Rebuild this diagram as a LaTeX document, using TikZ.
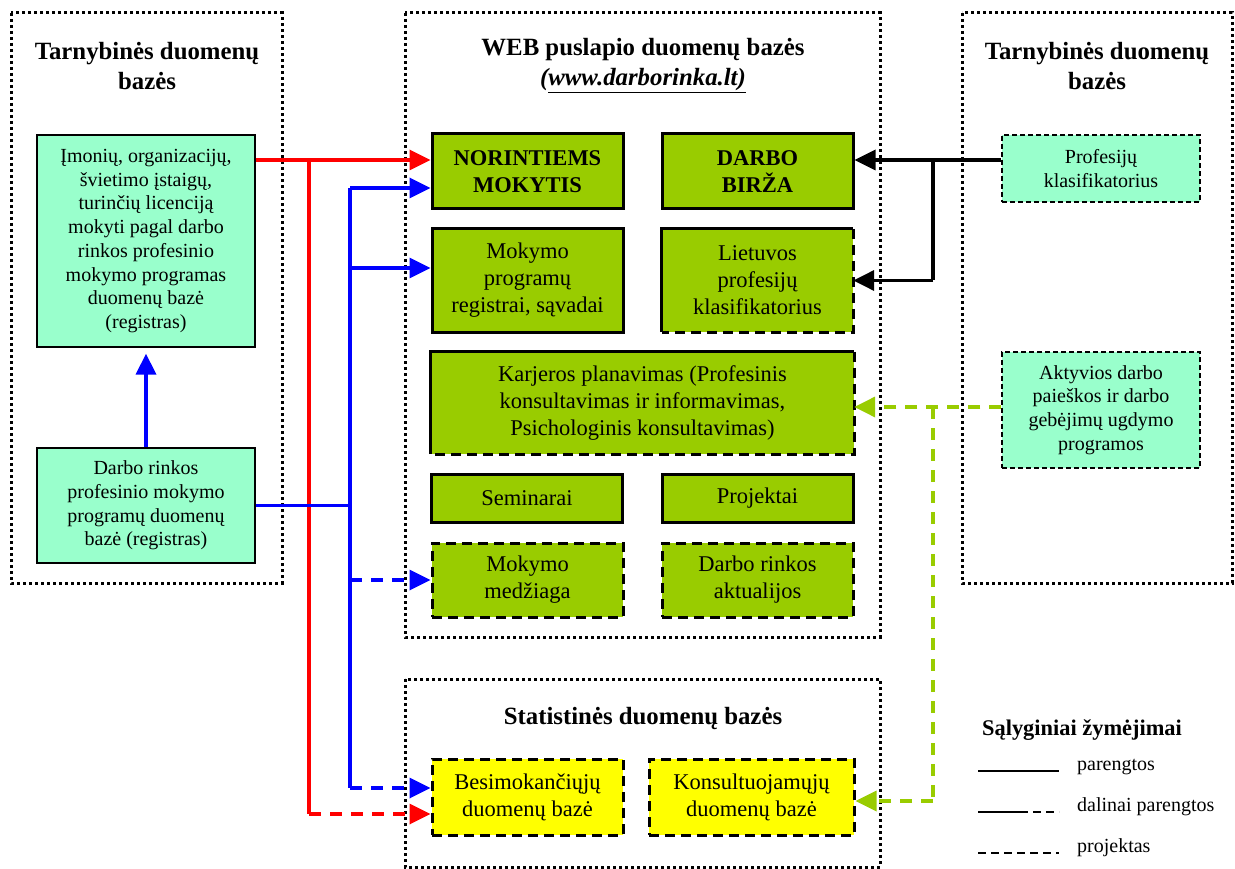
\documentclass[tikz,border=0pt]{standalone}
\usepackage{fontspec}
\setmainfont{Liberation Serif}
\usetikzlibrary{arrows.meta}
\definecolor{webgreen}{HTML}{99CC00}
\definecolor{mint}{HTML}{99FFCC}
\definecolor{ylw}{HTML}{FFFF00}
\definecolor{cblue}{HTML}{0000FF}
\definecolor{cred}{HTML}{FF0000}
\begin{document}
\begin{tikzpicture}[x=1pt,y=-1pt,
  frame/.style={draw, line width=3pt, dash pattern=on 3pt off 3pt},
  head/.style={font=\fontsize{24.8}{30}\selectfont\bfseries, align=center, inner sep=0},
  cbox/.style={inner sep=0, align=center, font=\fontsize{22.5}{27}\selectfont, minimum width=191pt},
  gbox/.style={cbox, fill=webgreen},
  ybox/.style={cbox, fill=ylw},
  solidb/.style={draw, line width=3pt},
  dashb/.style={draw, line width=3pt, dash pattern=on 10pt off 6pt},
  sbox/.style={fill=mint, draw, line width=1.3pt, inner sep=0, align=center, font=\fontsize{20}{23.7}\selectfont, minimum width=218pt},
  sdash/.style={dash pattern=on 5pt off 3pt},
  con/.style={line width=3.5pt, -{Triangle[length=21pt,width=20pt]}},
  wire/.style={line width=3.5pt},
  cdash/.style={dash pattern=on 12pt off 9pt},
  ldash/.style={dash pattern=on 8pt off 5pt},
  legtxt/.style={font=\fontsize{20}{24}\selectfont, anchor=west, inner sep=0}
]
\useasboundingbox (0,0) rectangle (1235,869);

% frames
\draw[frame] (11,13) rectangle (282,583);
\draw[frame] (405,13) rectangle (880,637);
\draw[frame] (962,13) rectangle (1232,583);
\draw[frame] (405,679) rectangle (880,867);

% headings
\node[head] (hl) at (147,66) {Tarnybinės duomenų\\bazės};
\node[head] (hr) at (1097,66) {Tarnybinės duomenų\\bazės};
\node[head] (hw) at (643,66) {WEB puslapio duomenų bazės\\{\itshape(\underline{www.darborinka.lt)}}};
\node[head] (hs) at (643,718) {Statistinės duomenų bazės};

% left boxes
\node[sbox, minimum height=212pt] (box1) at (146,241)
  {Įmonių, organizacijų,\\švietimo įstaigų,\\turinčių licenciją\\mokyti pagal darbo\\rinkos profesinio\\mokymo programas\\duomenų bazė\\(registras)};
\node[sbox, minimum height=115pt] (box2) at (146,505.5)
  {Darbo rinkos\\profesinio mokymo\\programų duomenų\\bazė (registras)};

% right boxes
\node[sbox, sdash, minimum width=198pt, minimum height=67pt] (prof) at (1101,168.5)
  {Profesijų\\klasifikatorius};
\node[sbox, sdash, minimum width=198pt, minimum height=116pt] (aktyv) at (1101,410)
  {Aktyvios darbo\\paieškos ir darbo\\gebėjimų ugdymo\\programos};

% web boxes
\node[gbox, solidb, minimum height=75pt, font=\fontsize{22.5}{27}\selectfont\bfseries] (norint) at (527.5,171.5) {NORINTIEMS\\MOKYTIS};
\node[gbox, solidb, minimum height=75pt, font=\fontsize{22.5}{27}\selectfont\bfseries] (birza) at (757.5,171.5) {DARBO\\BIRŽA};
\node[gbox, solidb, minimum height=103pt] (mprog) at (527.5,280.5) {Mokymo\\programų\\registrai, sąvadai};
\node[gbox, minimum height=103pt] (lpk) at (757.5,280.5) {Lietuvos\\profesijų\\klasifikatorius};
\draw[line width=3pt] (lpk.south west) -- (lpk.north west) -- (lpk.north east);
\draw[dashb] (lpk.north east) -- (lpk.south east) -- (lpk.south west);
\node[gbox, minimum width=423pt, minimum height=102pt] (karj) at (642.5,403)
  {Karjeros planavimas (Profesinis\\konsultavimas ir informavimas,\\Psichologinis konsultavimas)};
\draw[line width=3pt] (karj.south west) -- (karj.north west) -- (karj.north east);
\draw[dashb] (karj.north east) -- (karj.south east) -- (karj.south west);
\node[gbox, solidb, minimum height=48pt] (sem) at (527,498) {Seminarai};
\node[gbox, solidb, minimum height=48pt] (proj) at (757.5,498) {Projektai};
\node[gbox, dashb, minimum height=74pt] (mmed) at (527.5,580) {Mokymo\\medžiaga};
\node[gbox, dashb, minimum height=74pt] (dra) at (757.5,580) {Darbo rinkos\\aktualijos};

% statistics boxes
\node[ybox, dashb, minimum height=76pt] (besim) at (527.5,797) {Besimokančiųjų\\duomenų bazė};
\node[ybox, dashb, minimum width=205pt, minimum height=76pt] (kons) at (751.5,797) {Konsultuojamųjų\\duomenų bazė};

% junction coordinates
\coordinate (rj) at (309,160);
\coordinate (rb) at (309,814);
\coordinate (bj) at (350,505.5);
\coordinate (bt) at (350,188);
\coordinate (bm) at (350,268);
\coordinate (bd) at (350,580);
\coordinate (bb) at (350,788);
\coordinate (kj) at (933,160);
\coordinate (kb) at (933,280.5);
\coordinate (gj) at (933,407);
\coordinate (gb) at (933,801);

% red connectors
\draw[con, cred] ([yshift=81pt]box1.east) -- ([yshift=11.5pt]norint.west);
\draw[wire, cred] (rj) -- (rb);
\draw[con, cred, cdash] (rb) -- ([yshift=-17pt]besim.west);

% blue connectors
\draw[con, cblue, shorten >=6pt] (box2.north) -- (box1.south);
\draw[wire, cblue] (box2.east) -- (bj);
\draw[wire, cblue] (bt) -- (bb);
\draw[con, cblue] (bt) -- ([yshift=-16.5pt]norint.west);
\draw[con, cblue] (bm) -- ([yshift=12.5pt]mprog.west);
\draw[con, cblue, cdash] (bd) -- (mmed.west);
\draw[con, cblue, cdash] (bb) -- ([yshift=9pt]besim.west);

% black connectors
\draw[con, black] ([yshift=8.5pt]prof.west) -- ([yshift=11.5pt]birza.east);
\draw[wire, black] (kj) -- (kb);
\draw[con, black] (kb) -- (lpk.east);

% green connectors
\draw[con, webgreen, cdash] ([yshift=3pt]aktyv.west) -- ([yshift=-4pt]karj.east);
\draw[wire, webgreen, cdash] (gj) -- (gb);
\draw[con, webgreen, cdash] (gb) -- ([yshift=-4pt]kons.east);

% legend
\node[font=\fontsize{22.4}{27}\selectfont\bfseries, inner sep=0] (lh) at (1082,730) {Sąlyginiai žymėjimai};
\coordinate (l1a) at (978,771);
\coordinate (l1b) at (1059,771);
\coordinate (l2a) at (978,812);
\coordinate (l2m) at (1020,812);
\coordinate (l2b) at (1059,812);
\coordinate (l3a) at (978,853);
\coordinate (l3b) at (1059,853);
\draw[line width=1.5pt] (l1a) -- (l1b);
\draw[line width=1.5pt] (l2a) -- (l2m);
\draw[line width=1.5pt, ldash] (l2m) -- (l2b);
\draw[line width=1.5pt, ldash] (l3a) -- (l3b);
\node[legtxt] (t1) at (1077,767) {parengtos};
\node[legtxt] (t2) at (1077,807) {dalinai parengtos};
\node[legtxt] (t3) at (1077,848) {projektas};
\end{tikzpicture}
\end{document}
